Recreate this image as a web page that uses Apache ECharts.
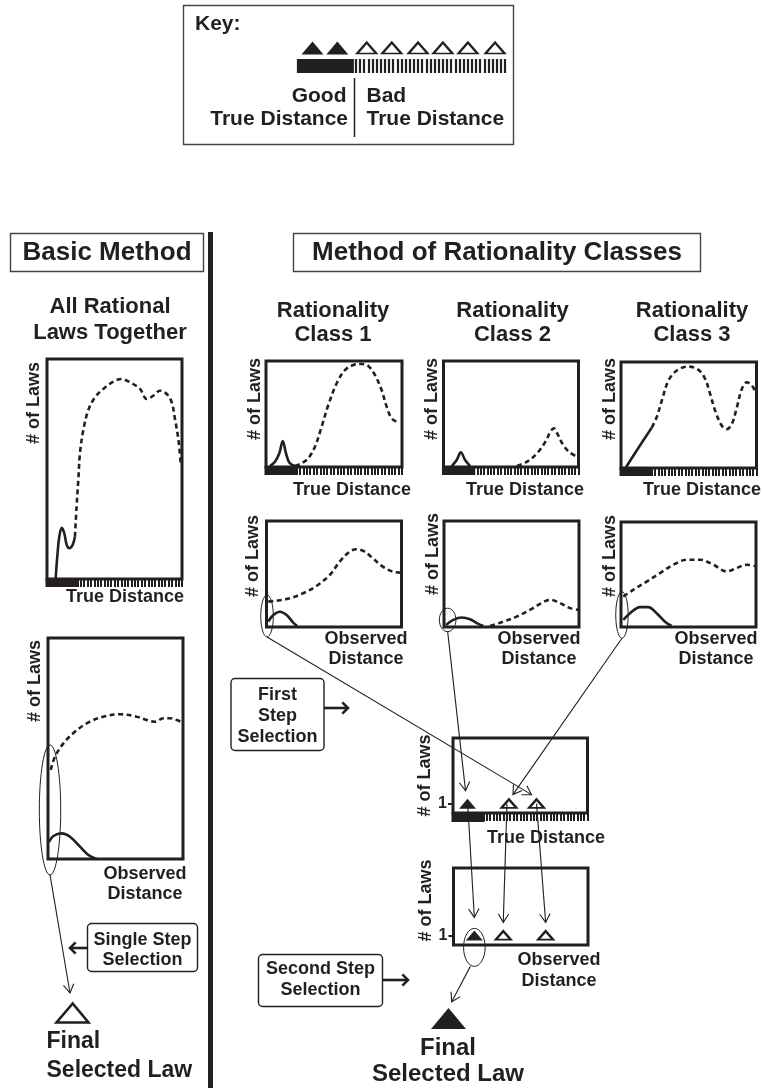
<!DOCTYPE html>
<html><head><meta charset="utf-8">
<script src="https://cdn.jsdelivr.net/npm/echarts@6/dist/echarts.min.js"></script>
<style>html,body{margin:0;padding:0;background:#fff}#c{width:763px;height:1088px}</style>
</head><body><div id="c"></div>
<script>
// ---------------- DATA (x: distance 0-100, y: # of laws 0-100) ----------------
const basicTrueGood = [[6.4,0],[7.6,10.1],[9.1,19.2],[10.9,23.3],[12.8,20.8],[14.6,15.5],[16.5,14],[19,15.5],[20.7,19.2]];
const basicTrueBad = [[20.7,19.2],[21.9,32.9],[23.2,45],[24.4,57.1],[26.9,67.7],[30.6,76.8],[35.6,82.6],[41.7,86.4],[49.1,89.7],[55.3,90.9],[61.5,89.4],[68.9,86.4],[73.9,81.8],[78.7,83.3],[83.7,85.6],[88.7,84.1],[92.4,80.3],[94.8,72.7],[97.3,63.6],[99,53]];
const basicObsGood = [[0.7,7.8],[4,10.4],[10.1,11.6],[16.3,10.1],[23.7,5.6],[29.9,1.8],[36,0]];
const basicObsBad = [[2,40.3],[5.2,46.3],[11.4,52.3],[18.7,56.9],[28.7,61.4],[41,64.4],[53.3,65.5],[65.7,64.4],[73.1,62.9],[79.3,62.1],[85.4,63.7],[90.4,63.7],[95.3,62.9],[100,61.7]];
const c1TrueGood = [[2.9,0.9],[6.6,5],[9.8,12.9],[12.3,24.5],[14.7,12.9],[17.2,4],[21.3,0.9]];
const c1TrueBad = [[21.3,0.9],[26.2,3.5],[31.1,8.2],[36,19.2],[40.9,38],[45.8,58.5],[52,79],[58.1,91.5],[64.2,96.2],[70.4,97.2],[75.2,95.3],[80.1,86.8],[85,72.6],[88.7,56.9],[92.4,45.9],[97.3,41.8]];
const c2TrueGood = [[6.1,0.9],[9.8,6.6],[12.8,13.9],[16,6.6],[19.7,0.9]];
const c2TrueBad = [[54.4,0.9],[61.9,5],[69.3,12.9],[75.5,23.9],[79.2,33.3],[81.7,36.5],[84.2,31.8],[87.9,22.4],[92.8,14.5],[99,9.7]];
const c3TrueGood = [[3.7,0.7],[11.6,16.5],[22.7,38.1]];
const c3TrueBad = [[22.7,38.1],[26.4,48.1],[30.1,63.5],[35,82.5],[41.2,92],[49.7,95.7],[57.1,92.6],[62.1,84.1],[65.8,69.8],[69.5,54],[74.4,39.8],[78.1,36.7],[81.8,41.5],[85.5,57.2],[89.2,74.6],[92.9,80.9],[96.6,77.7],[99.5,71.4]];
const c1ObsGood = [[1.3,5],[5,11.3],[10,14.4],[14.9,11.3],[19.8,4.1],[22.7,0.9]];
const c1ObsBad = [[1.3,23.9],[7.5,24.8],[17.3,27.1],[27.1,31.8],[37,38.7],[46.9,49.1],[54.2,61.6],[61.6,71.1],[66.6,73.3],[72.7,71.1],[78.8,64.8],[86.2,56.9],[93.6,52.2],[99.3,51.3]];
const c2ObsGood = [[1.5,1.9],[6.9,6.7],[13.1,8.9],[19.3,7.3],[25.4,2.9],[29.1,1]];
const c2ObsBad = [[34.1,1],[43.9,5],[53.8,9.8],[63.7,16.2],[72.4,22.6],[78.5,25.7],[85.9,22.6],[93.3,17.8],[99.5,16.2]];
const c3ObsGood = [[1.7,6.7],[6.7,13.1],[14.1,18.9],[20.2,18.9],[26.4,13.1],[32.6,5.1],[37.5,1]];
const c3ObsBad = [[1.7,29],[9.1,35.4],[19,43.3],[28.9,51.4],[38.8,59.3],[48.7,64.1],[58.5,64.1],[68.4,59.3],[78.3,52.9],[85.7,56.2],[93.1,59.3],[100,57.7]];
// selected laws (one law each, # of laws = 1)
const selTrueGood = [[10.8,1]];
const selTrueBad = [[41.6,1],[62.1,1]];
const selObsGood = [[15.5,1]];
const selObsBad = [[37,1],[68.5,1]];
// key
const keyGood = [7, 19];
const keyBad = [33.2, 45.3, 58, 70, 82.1, 95.2];
const goodLimit = 23.5;     // end of "good true distance" band
const keyGoodLimit = 27;
const selTicks = [1];

// ---------------- LAYOUT ----------------
const INK = '#231f20';
const FONT = '"Liberation Sans", Arial, Helvetica, sans-serif';
const GRIDS = [
  {left:47, top:359, width:135, height:220},      // 0 basic true
  {left:48, top:638, width:135, height:221},      // 1 basic observed
  {left:266, top:361, width:136, height:106},     // 2 class1 true
  {left:443.5, top:361, width:135, height:106},   // 3 class2 true
  {left:621, top:362, width:135.5, height:106},   // 4 class3 true
  {left:266.5, top:521, width:135, height:106},   // 5 class1 obs
  {left:444, top:521, width:135, height:106},     // 6 class2 obs
  {left:621, top:522, width:135, height:105},     // 7 class3 obs
  {left:453, top:738, width:134.5, height:75},    // 8 selected true
  {left:453.5, top:868, width:134.5, height:77},  // 9 selected obs
  {left:298, top:39, width:207, height:20}        // 10 key
];
const TICKED = {0:1,2:1,3:1,4:1,8:1,10:1};

const grid = GRIDS.map((g,i)=>Object.assign({}, g, {
  show: i!==10, borderColor: INK, borderWidth: 3, backgroundColor:'transparent',
  containLabel:false, outerBoundsMode:'none'
}));
const xAxis = GRIDS.map((g,i)=>({
  gridIndex:i, type:'value', min:0, max:100, interval: i===10?2:(TICKED[i]?2.5:50),
  axisLine:{show:false}, axisLabel:{show:false}, splitLine:{show:false},
  axisTick:{show:!!TICKED[i], inside:false, length: i===10?14:8, lineStyle:{color:INK, width: i===10?2.2:2}}
}));
const yAxis = GRIDS.map((g,i)=>{
  if (i===8 || i===9) return {
    gridIndex:i, type:'value', min:0, max:8, interval:1,
    axisLine:{show:false}, splitLine:{show:false},
    axisTick:{show:true, customValues:selTicks, length:5, lineStyle:{color:INK, width:2}},
    axisLabel:{show:true, customValues:selTicks, margin:6, color:INK, fontSize:16, fontWeight:'bold', fontFamily:FONT,
      formatter:v=> (v===1?'1':'')}
  };
  return {gridIndex:i, type:'value', min:0, max: i===10?10:100, show:false};
});

function curve(gi, data, dashed){
  return {type:'line', xAxisIndex:gi, yAxisIndex:gi, data, showSymbol:false, smooth:0.35,
    silent:true, z:3, lineStyle:{color:INK, width:2.6, type: dashed?[5,3.5]:'solid', cap:'butt'}};
}
function band(gi, limit, h){
  return {type:'custom', xAxisIndex:gi, yAxisIndex:gi, data:[[0, limit]], silent:true, z:4, clip:false,
    renderItem:(p, api)=>{
      const a = api.coord([api.value(0), 0]);
      const b = api.coord([api.value(1), 0]);
      const off = gi===10?0:1.5;
      return {type:'rect', shape:{x:a[0]-off, y:a[1]-(gi===10?0:1), width:b[0]-a[0]+off, height:h+(gi===10?0:1)}, style:{fill:INK}};
    }};
}
function tri(gi, data, filled, size){
  return {type:'scatter', xAxisIndex:gi, yAxisIndex:gi, data, symbol:'triangle', symbolSize:size, silent:true, z:5,
    itemStyle: filled?{color:INK, opacity:1}:{color:'#fff', opacity:1, borderColor:INK, borderWidth:2.2}};
}

const series = [
  curve(0, basicTrueGood,false), curve(0, basicTrueBad,true),
  curve(1, basicObsGood,false), curve(1, basicObsBad,true),
  curve(2, c1TrueGood,false), curve(2, c1TrueBad,true),
  curve(3, c2TrueGood,false), curve(3, c2TrueBad,true),
  curve(4, c3TrueGood,false), curve(4, c3TrueBad,true),
  curve(5, c1ObsGood,false), curve(5, c1ObsBad,true),
  curve(6, c2ObsGood,false), curve(6, c2ObsBad,true),
  curve(7, c3ObsGood,false), curve(7, c3ObsBad,true),
  band(0, goodLimit, 8), band(2, goodLimit, 8), band(3, goodLimit, 8), band(4, goodLimit, 8), band(8, goodLimit, 9),
  band(10, keyGoodLimit, 14),
  tri(8, selTrueGood, true, [17,10]), tri(8, selTrueBad, false, [15,8.5]),
  tri(9, selObsGood, true, [17,10]), tri(9, selObsBad, false, [15,8.5]),
  tri(10, keyGood.map(x=>[x,5.5]), true, [22,13]), tri(10, keyBad.map(x=>[x,5.5]), false, [19,11])
];

const chart = echarts.init(document.getElementById('c'), null, {renderer:'canvas', width:763, height:1088});
chart.setOption({animation:false, backgroundColor:'#fff', grid, xAxis, yAxis, series});

// ---------------- ANNOTATIONS ----------------
const G = [];
const px = (g, pt) => chart.convertToPixel({gridIndex:g}, pt);
function T(s, x, y, size, align, rot){
  G.push({type:'text', x, y, rotation: rot||0, z:20, silent:true,
    style:{text:s, fill:INK, fontSize:size, fontWeight:'bold', fontFamily:FONT, align:align||'center', verticalAlign:'middle'}});
}
function R(x,y,w,h,opt){
  G.push({type:'rect', z:15, silent:true, shape:{x,y,width:w,height:h,r:(opt&&opt.r)||0},
    style:{fill:(opt&&opt.fill)||'none', stroke:(opt&&opt.stroke)||null, lineWidth:(opt&&opt.lw)||0}});
}
function L(x1,y1,x2,y2,w){
  G.push({type:'line', z:16, silent:true, shape:{x1,y1,x2,y2}, style:{stroke:INK, lineWidth:w}});
}
function A(x1,y1,x2,y2,w,head,ang){
  L(x1,y1,x2,y2,w);
  const dx=x2-x1, dy=y2-y1, d=Math.hypot(dx,dy), ux=dx/d, uy=dy/d;
  const pts=[];
  [ang,-ang].forEach((a)=>{
    const c=Math.cos(a), s=Math.sin(a);
    const rx = ux*c - uy*s, ry = ux*s + uy*c;
    pts.push([x2 - head*rx, y2 - head*ry]);
  });
  G.push({type:'polyline', z:16, silent:true, shape:{points:[pts[0],[x2,y2],pts[1]]}, style:{stroke:INK, lineWidth:w, fill:null}});
}
function E(cx,cy,rx,ry){
  G.push({type:'ellipse', z:17, silent:true, shape:{cx,cy,rx,ry}, style:{fill:'none', stroke:INK, lineWidth:1}});
}

// Key
R(183.5,5.5,330,139,{stroke:'#444', lw:1.4});
T('Key:', 195, 24, 21, 'left');
L(354.5,78,354.5,137,1.5);
T('Good', 346.5, 96, 21, 'right');
T('True Distance', 348, 119.5, 21, 'right');
T('Bad', 366.5, 96, 21, 'left');
T('True Distance', 366.5, 119.5, 21, 'left');

// Headers
R(10.5,233.5,193,38,{stroke:'#444', lw:1.4});
T('Basic Method', 107, 253, 26);
R(293.5,233.5,407,38,{stroke:'#444', lw:1.4});
T('Method of Rationality Classes', 497, 253, 26);
R(208,232,5,856,{fill:INK});

T('All Rational', 110, 306.5, 22);
T('Laws Together', 110, 333, 22);
[[333,'1'],[512.5,'2'],[692,'3']].forEach(([x,n])=>{ T('Rationality', x, 310.5, 22); T('Class '+n, x, 334.5, 22); });

// y-axis names
const rot = Math.PI/2;
[[34,362],[35.5,640],[255,358],[432,358],[610,358],[253,515],[433,513],[610,515]].forEach(([x,y])=>T('# of Laws', x, y, 18, 'right', rot));
T('# of Laws', 425.5, 775.5, 18, 'center', rot);
T('# of Laws', 426.5, 900.5, 18, 'center', rot);

// x-axis names
[[125,597.5],[352,490.5],[525,490.5],[702,490.5],[546,838]].forEach(([x,y])=>T('True Distance', x, y, 18));
[[145,874,894],[366,639.5,659.5],[539,639.5,659.5],[716,639.5,659.5],[559,960,981]].forEach(([x,y1,y2])=>{ T('Observed',x,y1,18); T('Distance',x,y2,18); });

// selection boxes
R(87.5,923.5,110,48,{stroke:INK, lw:1.4, r:4});
T('Single Step', 142.5, 940, 18); T('Selection', 142.5, 960.5, 18);
A(87,948,70,948,2.6,8,Math.PI/4);
R(231,678.5,93,72,{stroke:INK, lw:1.4, r:4});
T('First', 277.5, 695.5, 18); T('Step', 277.5, 716.5, 18); T('Selection', 277.5, 737, 18);
A(324,708,348,708,2.6,8,Math.PI/4);
R(258.5,954.5,124,52,{stroke:INK, lw:1.4, r:4});
T('Second Step', 320.5, 969, 18); T('Selection', 320.5, 990, 18);
A(383,980,408,980,2.6,8,Math.PI/4);

// ellipses around best observed laws
const e1 = px(5,[0.4,10.4]), e2 = px(6,[2.7,6.7]), e3 = px(7,[0.7,11.5]), eb = px(1,[1.5,22.2]);
E(e1[0],e1[1],6.3,21); E(e2[0],e2[1],8.3,11.7); E(e3[0],e3[1],6.2,23.3); E(eb[0],eb[1],10.7,65);
const T1 = px(8, selTrueGood[0]), T2 = px(8, selTrueBad[0]), T3 = px(8, selTrueBad[1]);
const O1 = px(9, selObsGood[0]), O2 = px(9, selObsBad[0]), O3 = px(9, selObsBad[1]);
E(O1[0], O1[1]+12, 10.8, 19);
const AW = 1.1, AH = 10, AA = 0.55;
A(e1[0], e1[1]+21, T3[0]-5, T3[1]-9, AW, AH, AA);
A(e2[0], e2[1]+11.7, T1[0]-2, T1[1]-13, AW, AH, AA);
A(e3[0], e3[1]+23.3, T2[0]+4, T2[1]-9, AW, AH, AA);
A(T1[0], T1[1]-3, O1[0], O1[1]-18, AW, AH, AA);
A(T2[0]-2, T2[1], O2[0], O2[1]-13, AW, AH, AA);
A(T3[0], T3[1], O3[0], O3[1]-13, AW, AH, AA);
A(eb[0], eb[1]+65, 70, 993, AW, AH, AA);
A(O1[0]-4, O1[1]+31, 451.7, 1001.7, AW, AH, AA);

// final selected laws
G.push({type:'polygon', z:18, silent:true, shape:{points:[[72.7,1003.5],[88.5,1022.5],[56.5,1022.5]]}, style:{fill:'#fff', stroke:INK, lineWidth:2.6}});
T('Final', 46.5, 1042, 23, 'left'); T('Selected Law', 46.5, 1070.5, 23, 'left');
G.push({type:'polygon', z:18, silent:true, shape:{points:[[448.5,1008],[466,1029],[431,1029]]}, style:{fill:INK}});
T('Final', 448, 1048, 24); T('Selected Law', 448, 1074.5, 24);

chart.setOption({graphic: G});
</script></body></html>
